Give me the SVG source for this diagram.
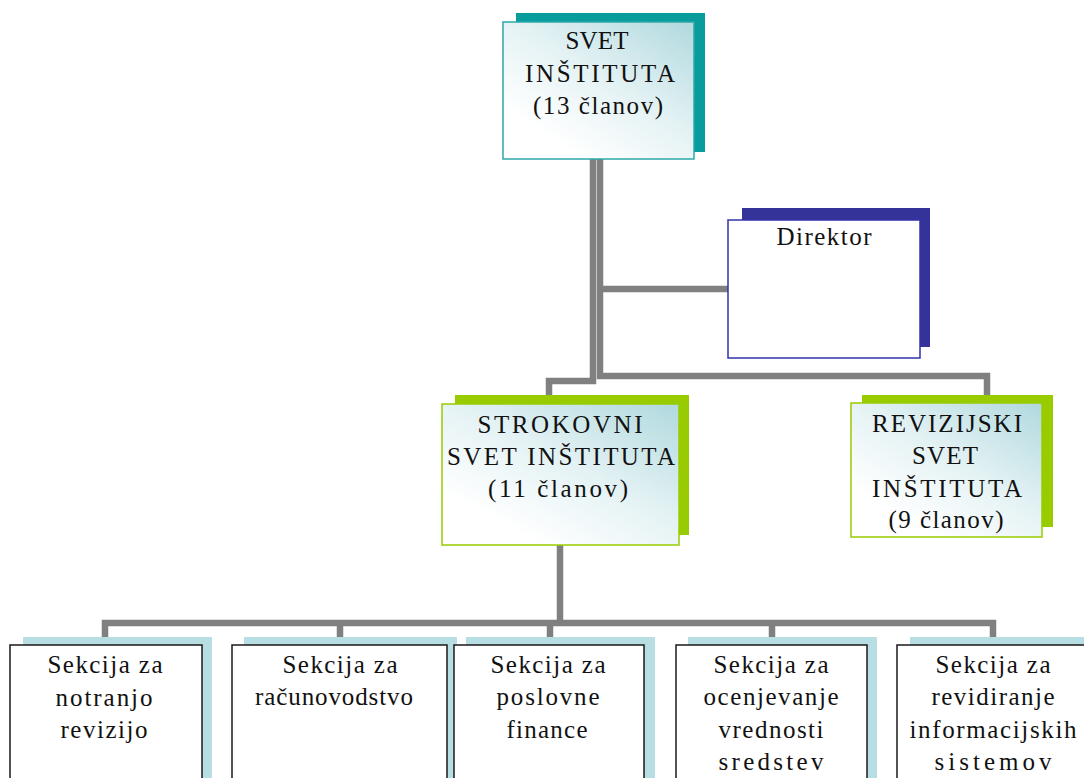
<svg xmlns="http://www.w3.org/2000/svg" width="1084" height="778" viewBox="0 0 1084 778">
  <defs>
    <linearGradient id="tealGrad" x1="100%" y1="0%" x2="25%" y2="85%">
      <stop offset="0" stop-color="#B0D9DE"/>
      <stop offset="0.55" stop-color="#E4F2F4"/>
      <stop offset="1" stop-color="#FFFFFF"/>
    </linearGradient>
  </defs>
  <style>
    text { font-family: 'Liberation Serif', 'Times New Roman', serif; font-size: 25px; fill: #111; text-anchor: middle; }
    .conn { fill: none; stroke: #808080; stroke-width: 6.5; stroke-linejoin: miter; stroke-linecap: butt; }
    .sh-teal { fill: #089C9C; }
    .sh-blue { fill: #333399; }
    .sh-green { fill: #99CC00; }
    .sh-sec { fill: #B7DEE3; }
    .bx-teal { fill: url(#tealGrad); stroke: #2EA8A8; stroke-width: 1.5; }
    .bx-blue { fill: #FFFFFF; stroke: #3333AA; stroke-width: 1.5; }
    .bx-green { fill: url(#tealGrad); stroke: #99CC00; stroke-width: 1.5; }
    .bx-sec { fill: #FFFFFF; stroke: #1A1A1A; stroke-width: 1.5; }
  </style>

  <rect width="1084" height="778" fill="#FFFFFF"/>

  <g id="connectors">
    <path class="conn" d="M593,159 V381 H549 V396"/>
    <path class="conn" d="M600,159 V376 H987 V396"/>
    <path class="conn" d="M600,289 H728"/>
    <path class="conn" d="M560,545 V623"/>
    <path class="conn" d="M105,638 V623 H993 V638"/>
    <path class="conn" d="M340,623 V638"/>
    <path class="conn" d="M550,623 V638"/>
    <path class="conn" d="M772,623 V638"/>
  </g>

  <g id="svet-instituta">
    <rect class="sh-teal" x="516" y="13" width="189" height="139"/>
    <rect class="bx-teal" x="503" y="22" width="191" height="137"/>
    <text x="597" y="49" textLength="63" lengthAdjust="spacing">SVET</text>
    <text x="600" y="82" textLength="150" lengthAdjust="spacing">INŠTITUTA</text>
    <text x="598" y="114" textLength="130" lengthAdjust="spacing">(13 članov)</text>
  </g>

  <g id="direktor">
    <rect class="sh-blue" x="742" y="208" width="188" height="139"/>
    <rect class="bx-blue" x="728" y="220" width="192" height="138"/>
    <text x="824" y="245" textLength="95" lengthAdjust="spacing">Direktor</text>
  </g>

  <g id="strokovni-svet">
    <rect class="sh-green" x="455" y="395" width="234" height="140"/>
    <rect class="bx-green" x="442" y="404" width="237" height="141"/>
    <text x="560" y="433" textLength="165" lengthAdjust="spacing">STROKOVNI</text>
    <text x="561" y="465" textLength="228" lengthAdjust="spacing">SVET INŠTITUTA</text>
    <text x="558" y="497" textLength="140" lengthAdjust="spacing">(11 članov)</text>
  </g>

  <g id="revizijski-svet">
    <rect class="sh-green" x="862" y="395" width="191" height="132"/>
    <rect class="bx-green" x="851" y="403" width="191" height="134"/>
    <text x="947" y="432" textLength="150" lengthAdjust="spacing">REVIZIJSKI</text>
    <text x="945" y="464" textLength="66" lengthAdjust="spacing">SVET</text>
    <text x="947" y="497" textLength="150" lengthAdjust="spacing">INŠTITUTA</text>
    <text x="946" y="528" textLength="115" lengthAdjust="spacing">(9 članov)</text>
  </g>

  <g id="sekcija-notranja-revizija">
    <rect class="sh-sec" x="23" y="637" width="189" height="150"/>
    <rect class="bx-sec" x="10" y="645" width="192" height="150"/>
    <text x="105" y="673" textLength="115" lengthAdjust="spacing">Sekcija za</text>
    <text x="104" y="706" textLength="97" lengthAdjust="spacing">notranjo</text>
    <text x="104" y="738" textLength="87" lengthAdjust="spacing">revizijo</text>
  </g>

  <g id="sekcija-racunovodstvo">
    <rect class="sh-sec" x="244" y="637" width="213" height="150"/>
    <rect class="bx-sec" x="232" y="645" width="215" height="150"/>
    <text x="340" y="673" textLength="115" lengthAdjust="spacing">Sekcija za</text>
    <text x="334" y="705" textLength="158" lengthAdjust="spacing">računovodstvo</text>
  </g>

  <g id="sekcija-poslovne-finance">
    <rect class="sh-sec" x="466" y="637" width="189" height="150"/>
    <rect class="bx-sec" x="454" y="645" width="190" height="150"/>
    <text x="548" y="673" textLength="115" lengthAdjust="spacing">Sekcija za</text>
    <text x="548" y="705" textLength="103" lengthAdjust="spacing">poslovne</text>
    <text x="547" y="738" textLength="81" lengthAdjust="spacing">finance</text>
  </g>

  <g id="sekcija-ocenjevanje">
    <rect class="sh-sec" x="688" y="637" width="189" height="150"/>
    <rect class="bx-sec" x="676" y="645" width="191" height="150"/>
    <text x="771" y="673" textLength="115" lengthAdjust="spacing">Sekcija za</text>
    <text x="771" y="705" textLength="135" lengthAdjust="spacing">ocenjevanje</text>
    <text x="771" y="738" textLength="105" lengthAdjust="spacing">vrednosti</text>
    <text x="771" y="770" textLength="105" lengthAdjust="spacing">sredstev</text>
  </g>

  <g id="sekcija-informacijski-sistemi">
    <rect class="sh-sec" x="910" y="637" width="190" height="150"/>
    <rect class="bx-sec" x="897" y="645" width="192" height="150"/>
    <text x="993" y="673" textLength="115" lengthAdjust="spacing">Sekcija za</text>
    <text x="993" y="705" textLength="123" lengthAdjust="spacing">revidiranje</text>
    <text x="993" y="738" textLength="167" lengthAdjust="spacing">informacijskih</text>
    <text x="993" y="770" textLength="117" lengthAdjust="spacing">sistemov</text>
  </g>
</svg>
